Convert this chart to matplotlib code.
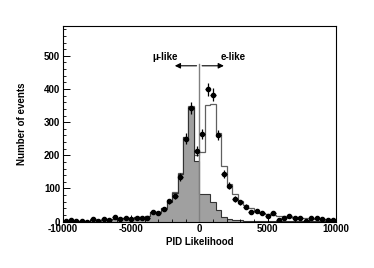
import matplotlib.pyplot as plt
import numpy as np

# bins: 50 bins of width 400 from -10000 to 10000
edges = np.linspace(-10000, 10000, 51)
centers = 0.5 * (edges[:-1] + edges[1:])

# data points
data = np.array([2, 4, 1, 1, 0, 8, 2, 9, 5, 14,
                 9, 10, 8, 10, 10, 11, 29, 25, 38, 61,
                 76, 135, 250, 343, 213, 264, 399, 382, 261, 145,
                 108, 68, 58, 45, 29, 32, 25, 17, 25, 5,
                 11, 18, 10, 11, 3, 10, 11, 8, 6, 5])

# mu-like MC (filled)
mc_mu = np.array([2, 2, 2, 3, 3, 4, 5, 6, 7, 9,
                  10, 11, 12, 13, 14, 17, 30, 30, 42, 60,
                  87, 145, 254, 346, 183, 82, 82, 60, 35, 15,
                  8, 5, 4, 3, 2, 2, 1, 1, 1, 1,
                  1, 1, 1, 1, 1, 1, 1, 1, 1, 1])

# total MC (open)
mc_tot = np.array([2, 2, 2, 3, 3, 4, 5, 6, 7, 9,
                   10, 11, 12, 13, 14, 17, 30, 30, 42, 61,
                   88, 146, 256, 350, 200, 211, 351, 356, 266, 169,
                   115, 83, 62, 50, 40, 32, 27, 23, 20, 18,
                   16, 14, 13, 12, 10, 9, 8, 8, 7, 6])

plt.rcParams['font.family'] = ['Liberation Sans', 'DejaVu Sans']
plt.rcParams['font.weight'] = 'bold'
plt.rcParams['axes.unicode_minus'] = False
fsz = 7

fig = plt.figure(figsize=(3.74, 2.68), dpi=100, facecolor='w')
ax = fig.add_axes([0.168, 0.173, 0.73, 0.73])

# histograms
ax.stairs(mc_tot, edges, color='#606060', lw=0.9)
ax.stairs(mc_mu, edges, fill=True, facecolor='#a0a0a0', edgecolor='none')
ax.stairs(mc_mu, edges, color='#333333', lw=0.8)

# data with errors
ax.errorbar(centers, data, yerr=np.sqrt(data), xerr=200, fmt='o', color='k',
            ms=3.0, elinewidth=0.9, capsize=0)

# cut line and arrows
ax.plot([0, 0], [0, 475], color='#808080', lw=1.0)
ax.annotate('', xy=(-2000, 470), xytext=(0, 470),
            arrowprops=dict(arrowstyle='-|>', color='k', lw=0.8, mutation_scale=8))
ax.annotate('', xy=(2000, 470), xytext=(0, 470),
            arrowprops=dict(arrowstyle='-|>', color='k', lw=0.8, mutation_scale=8))
ax.text(-2500, 482, '\u03bc-like', ha='center', va='bottom', fontsize=fsz)
ax.text(2500, 482, 'e-like', ha='center', va='bottom', fontsize=fsz)

ax.set_xlim(-10000, 10000)
ax.set_ylim(0, 590)
ax.set_xticks([-10000, -5000, 0, 5000, 10000])
ax.set_xticks(np.arange(-10000, 10001, 1000), minor=True)
ax.set_yticks([0, 100, 200, 300, 400, 500])
ax.set_yticks(np.arange(0, 591, 20), minor=True)
ax.tick_params(direction='in', labelsize=fsz, length=5, width=0.7)
ax.tick_params(which='minor', direction='in', length=2.5, width=0.6)
ax.tick_params(axis='x', pad=2)
ax.tick_params(axis='y', pad=2)
for s in ax.spines.values():
    s.set_linewidth(0.8)

ax.set_xlabel('PID Likelihood', fontsize=fsz, fontweight='bold', labelpad=2)
ax.set_ylabel('Number of events', fontsize=fsz, fontweight='bold', labelpad=12)

plt.savefig('out.png', dpi=100)
